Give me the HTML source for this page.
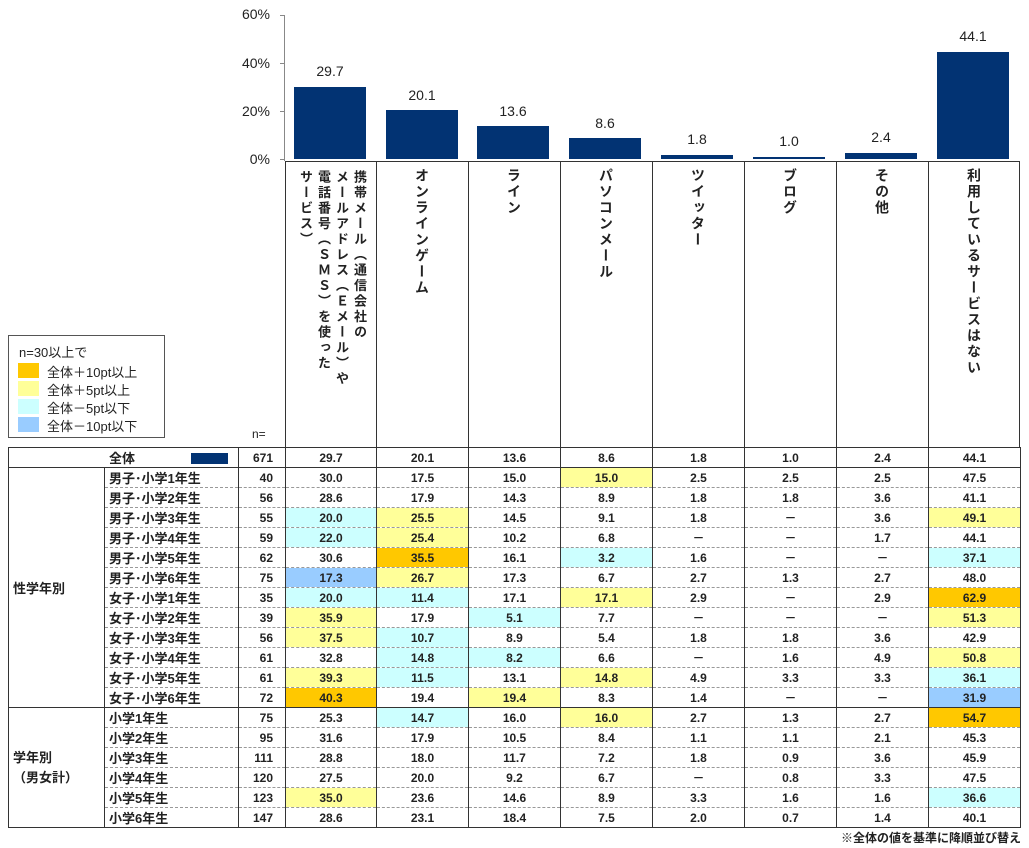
<!DOCTYPE html>
<html><head><meta charset="utf-8">
<style>
body{margin:0;width:1029px;height:848px;background:#fff;position:relative;overflow:hidden;font-family:"Liberation Sans","Noto Sans CJK JP",sans-serif;color:#222}
.a{position:absolute}
.bar{position:absolute;background:#023373;width:72px}
.bl{position:absolute;width:92px;text-align:center;font-size:14px}
.tk{position:absolute;right:759px;font-size:14px;text-align:right}
.vh{position:absolute;top:168px;writing-mode:vertical-rl;font-size:14px;font-weight:bold;letter-spacing:2px;line-height:16px}
table{position:absolute;left:8px;top:447px;border-collapse:collapse;table-layout:fixed;font-size:12px;font-weight:bold}
td{height:19px;padding:0;border-left:1px solid #333;border-right:1px solid #333;border-top:1px dashed #999;text-align:center;white-space:nowrap;overflow:hidden}
td.l{text-align:left;padding-left:4px;font-size:13px}
td.n{text-align:right;padding-right:12px}
tr.s td{border-top:1px solid #333}
.O{background:#FFC800}.Y{background:#FFFF99}.C{background:#CCFFFF}.B{background:#99CCFF}
</style></head><body>
<div class="a" style="left:284px;top:15px;width:1px;height:146px;background:#888"></div>
<div class="a" style="left:280px;top:15px;width:4px;height:1px;background:#888"></div>
<div class="a" style="left:280px;top:63px;width:4px;height:1px;background:#888"></div>
<div class="a" style="left:280px;top:111px;width:4px;height:1px;background:#888"></div>
<div class="a" style="left:280px;top:159px;width:4px;height:1px;background:#888"></div>
<div class="tk" style="top:6px">60%</div>
<div class="tk" style="top:55px">40%</div>
<div class="tk" style="top:103px">20%</div>
<div class="tk" style="top:151px">0%</div>
<div class="bar" style="left:294px;top:87px;height:72px"></div><div class="bl" style="left:284px;top:63px">29.7</div>
<div class="bar" style="left:386px;top:110px;height:49px"></div><div class="bl" style="left:376px;top:87px">20.1</div>
<div class="bar" style="left:477px;top:126px;height:33px"></div><div class="bl" style="left:467px;top:103px">13.6</div>
<div class="bar" style="left:569px;top:138px;height:21px"></div><div class="bl" style="left:559px;top:115px">8.6</div>
<div class="bar" style="left:661px;top:155px;height:4px"></div><div class="bl" style="left:651px;top:131px">1.8</div>
<div class="bar" style="left:753px;top:157px;height:2px"></div><div class="bl" style="left:743px;top:133px">1.0</div>
<div class="bar" style="left:845px;top:153px;height:6px"></div><div class="bl" style="left:835px;top:129px">2.4</div>
<div class="bar" style="left:937px;top:52px;height:107px"></div><div class="bl" style="left:927px;top:28px">44.1</div>
<div class="a" style="left:285px;top:161px;width:735px;height:286px;border:1px solid #333;border-bottom:none;box-sizing:border-box"></div>
<div class="a" style="left:376px;top:161px;width:1px;height:286px;background:#333"></div>
<div class="a" style="left:468px;top:161px;width:1px;height:286px;background:#333"></div>
<div class="a" style="left:560px;top:161px;width:1px;height:286px;background:#333"></div>
<div class="a" style="left:652px;top:161px;width:1px;height:286px;background:#333"></div>
<div class="a" style="left:744px;top:161px;width:1px;height:286px;background:#333"></div>
<div class="a" style="left:836px;top:161px;width:1px;height:286px;background:#333"></div>
<div class="a" style="left:928px;top:161px;width:1px;height:286px;background:#333"></div>
<div class="vh" style="left:296px;top:170px;font-size:13px;line-height:18px;letter-spacing:2.5px">携帯メール（通信会社の<br>メールアドレス（Ｅメール）や<br>電話番号（ＳＭＳ）を使った<br>サービス）</div>
<div class="vh" style="left:414px">オンラインゲーム</div>
<div class="vh" style="left:506px">ライン</div>
<div class="vh" style="left:598px">パソコンメール</div>
<div class="vh" style="left:690px">ツイッター</div>
<div class="vh" style="left:782px">ブログ</div>
<div class="vh" style="left:874px">その他</div>
<div class="vh" style="left:966px">利用しているサービスはない</div>
<div class="a" style="left:252px;top:427px;font-size:12px">n=</div>
<div class="a" style="left:8px;top:335px;width:157px;height:103px;border:1px solid #555;box-sizing:border-box;font-size:13px">
<div class="a" style="left:10px;top:6px">n=30以上で</div>
<div class="a" style="left:9px;top:27px;width:21px;height:15px;background:#FFC800"></div><div class="a" style="left:38px;top:26px">全体＋10pt以上</div>
<div class="a" style="left:9px;top:45px;width:21px;height:15px;background:#FFFF99"></div><div class="a" style="left:38px;top:44px">全体＋5pt以上</div>
<div class="a" style="left:9px;top:63px;width:21px;height:15px;background:#CCFFFF"></div><div class="a" style="left:38px;top:62px">全体－5pt以下</div>
<div class="a" style="left:9px;top:81px;width:21px;height:15px;background:#99CCFF"></div><div class="a" style="left:38px;top:80px">全体－10pt以下</div>
</div>
<table>
<colgroup><col style="width:96px"><col style="width:134px"><col style="width:47px"><col style="width:91px"><col style="width:92px"><col style="width:92px"><col style="width:92px"><col style="width:92px"><col style="width:92px"><col style="width:92px"><col style="width:92px"></colgroup>
<tr class="s"><td colspan="2" style="text-align:left;padding-left:100px;font-size:13px">全体<span style="display:inline-block;width:37px;height:11px;background:#023373;margin-left:56px;vertical-align:-1px"></span></td><td class="n">671</td><td>29.7</td><td>20.1</td><td>13.6</td><td>8.6</td><td>1.8</td><td>1.0</td><td>2.4</td><td>44.1</td></tr>
<tr class="s"><td rowspan="12" class="l" style="font-size:13px;border-bottom:1px solid #333">性学年別</td><td class="l">男子･小学1年生</td><td class="n">40</td><td>30.0</td><td>17.5</td><td>15.0</td><td class="Y">15.0</td><td>2.5</td><td>2.5</td><td>2.5</td><td>47.5</td></tr>
<tr><td class="l">男子･小学2年生</td><td class="n">56</td><td>28.6</td><td>17.9</td><td>14.3</td><td>8.9</td><td>1.8</td><td>1.8</td><td>3.6</td><td>41.1</td></tr>
<tr><td class="l">男子･小学3年生</td><td class="n">55</td><td class="C">20.0</td><td class="Y">25.5</td><td>14.5</td><td>9.1</td><td>1.8</td><td>－</td><td>3.6</td><td class="Y">49.1</td></tr>
<tr><td class="l">男子･小学4年生</td><td class="n">59</td><td class="C">22.0</td><td class="Y">25.4</td><td>10.2</td><td>6.8</td><td>－</td><td>－</td><td>1.7</td><td>44.1</td></tr>
<tr><td class="l">男子･小学5年生</td><td class="n">62</td><td>30.6</td><td class="O">35.5</td><td>16.1</td><td class="C">3.2</td><td>1.6</td><td>－</td><td>－</td><td class="C">37.1</td></tr>
<tr><td class="l">男子･小学6年生</td><td class="n">75</td><td class="B">17.3</td><td class="Y">26.7</td><td>17.3</td><td>6.7</td><td>2.7</td><td>1.3</td><td>2.7</td><td>48.0</td></tr>
<tr><td class="l">女子･小学1年生</td><td class="n">35</td><td class="C">20.0</td><td class="C">11.4</td><td>17.1</td><td class="Y">17.1</td><td>2.9</td><td>－</td><td>2.9</td><td class="O">62.9</td></tr>
<tr><td class="l">女子･小学2年生</td><td class="n">39</td><td class="Y">35.9</td><td>17.9</td><td class="C">5.1</td><td>7.7</td><td>－</td><td>－</td><td>－</td><td class="Y">51.3</td></tr>
<tr><td class="l">女子･小学3年生</td><td class="n">56</td><td class="Y">37.5</td><td class="C">10.7</td><td>8.9</td><td>5.4</td><td>1.8</td><td>1.8</td><td>3.6</td><td>42.9</td></tr>
<tr><td class="l">女子･小学4年生</td><td class="n">61</td><td>32.8</td><td class="C">14.8</td><td class="C">8.2</td><td>6.6</td><td>－</td><td>1.6</td><td>4.9</td><td class="Y">50.8</td></tr>
<tr><td class="l">女子･小学5年生</td><td class="n">61</td><td class="Y">39.3</td><td class="C">11.5</td><td>13.1</td><td class="Y">14.8</td><td>4.9</td><td>3.3</td><td>3.3</td><td class="C">36.1</td></tr>
<tr><td class="l">女子･小学6年生</td><td class="n">72</td><td class="O">40.3</td><td>19.4</td><td class="Y">19.4</td><td>8.3</td><td>1.4</td><td>－</td><td>－</td><td class="B">31.9</td></tr>
<tr class="s"><td rowspan="6" class="l" style="font-size:13px;line-height:20px;border-bottom:1px solid #333">学年別<br>（男女計）</td><td class="l">小学1年生</td><td class="n">75</td><td>25.3</td><td class="C">14.7</td><td>16.0</td><td class="Y">16.0</td><td>2.7</td><td>1.3</td><td>2.7</td><td class="O">54.7</td></tr>
<tr><td class="l">小学2年生</td><td class="n">95</td><td>31.6</td><td>17.9</td><td>10.5</td><td>8.4</td><td>1.1</td><td>1.1</td><td>2.1</td><td>45.3</td></tr>
<tr><td class="l">小学3年生</td><td class="n">111</td><td>28.8</td><td>18.0</td><td>11.7</td><td>7.2</td><td>1.8</td><td>0.9</td><td>3.6</td><td>45.9</td></tr>
<tr><td class="l">小学4年生</td><td class="n">120</td><td>27.5</td><td>20.0</td><td>9.2</td><td>6.7</td><td>－</td><td>0.8</td><td>3.3</td><td>47.5</td></tr>
<tr><td class="l">小学5年生</td><td class="n">123</td><td class="Y">35.0</td><td>23.6</td><td>14.6</td><td>8.9</td><td>3.3</td><td>1.6</td><td>1.6</td><td class="C">36.6</td></tr>
<tr style="border-bottom:1px solid #333"><td class="l">小学6年生</td><td class="n">147</td><td>28.6</td><td>23.1</td><td>18.4</td><td>7.5</td><td>2.0</td><td>0.7</td><td>1.4</td><td>40.1</td></tr>
</table>
<div class="a" style="right:8px;top:829px;font-size:12px;font-weight:bold">※全体の値を基準に降順並び替え</div>
</body></html>
